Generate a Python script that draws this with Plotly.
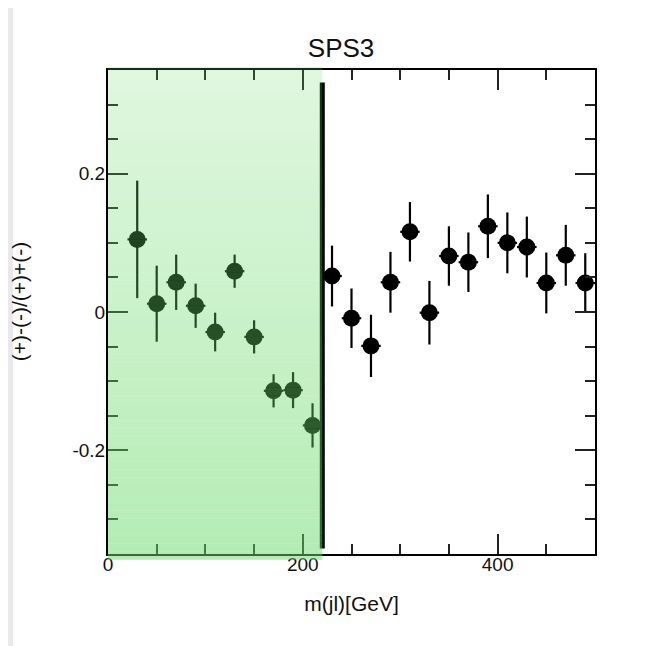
import plotly.graph_objects as go

# data
mass = [30, 50, 70, 90, 110, 130, 150, 170, 190, 210,
        230, 250, 270, 290, 310, 330, 350, 370, 390, 410, 430, 450, 470, 490]
asym = [0.105, 0.012, 0.043, 0.009, -0.029, 0.059, -0.036, -0.114, -0.113, -0.164,
        0.052, -0.009, -0.049, 0.043, 0.116, -0.001, 0.081, 0.072, 0.124, 0.100,
        0.094, 0.042, 0.082, 0.042]
asym_err = [0.085, 0.055, 0.040, 0.032, 0.028, 0.024, 0.024, 0.024, 0.026, 0.032,
            0.044, 0.043, 0.045, 0.044, 0.043, 0.046, 0.043, 0.043, 0.046, 0.044,
            0.044, 0.044, 0.044, 0.043]
bin_half_width = 10
cut_mass = 220
cut_line_top = 0.332

y_tick_vals = [-0.2, 0, 0.2]
y_tick_text = ['-0.2', '0', '0.2']

fig = go.Figure()

fig.add_trace(go.Scatter(
    x=mass, y=asym, mode='markers',
    marker=dict(color='black', size=17),
    error_y=dict(type='data', array=asym_err, thickness=2.2, width=0, color='black'),
    error_x=dict(type='constant', value=bin_half_width, thickness=2.2, width=0, color='black'),
    showlegend=False,
))

# white card on grey page
shapes = [dict(type='rect', xref='paper', yref='paper', x0=-0.195, x1=1.2, y0=-0.25, y1=1.2,
               fillcolor='white', line=dict(width=0), layer='below')]

# cut line
shapes.append(dict(type='line', xref='x', yref='y', x0=cut_mass, x1=cut_mass,
                   y0=-0.342, y1=cut_line_top, line=dict(color='black', width=5), layer='above'))

# green gradient overlay, built from thin strips (lighter at top)
n = 60
y_bot, y_top = -0.012, 1.006
for i in range(n):
    f = i / (n - 1)
    a = 0.5 - (0.5 - 0.21) * f
    shapes.append(dict(type='rect', xref='x', yref='paper', x0=0, x1=cut_mass,
                       y0=y_bot + (y_top - y_bot) * i / n,
                       y1=y_bot + (y_top - y_bot) * (i + 1) / n,
                       fillcolor=f'rgba(105,217,105,{a:.3f})', line=dict(width=0),
                       layer='above'))

axis_common = dict(
    showline=True, linewidth=2, linecolor='black', mirror='allticks',
    ticks='inside', ticklen=20, tickwidth=2, tickcolor='#222',
    showgrid=False, zeroline=False,
    tickfont=dict(size=19, color='#111'),
)

# page body adds 8px offset, so the figure is 8px smaller than the window
fig.update_layout(
    width=643, height=638,
    margin=dict(l=100, r=56, t=62, b=92),
    paper_bgcolor='#e9e9ed', plot_bgcolor='white',
    font=dict(family='Liberation Sans, Arial, sans-serif', color='#111'),
    title=dict(text='SPS3', x=0.518, xanchor='center', y=0.937, yanchor='middle',
               font=dict(size=26, color='#111')),
    shapes=shapes,
    annotations=[dict(text='(+)-(-)/(+)+(-)', textangle=-90, xref='paper', yref='paper',
                      x=-0.18, y=0.523, xanchor='center', yanchor='middle',
                      showarrow=False, font=dict(size=21, color='#111'))],
)
fig.update_xaxes(range=[0, 500], dtick=200, tick0=0, ticklabelstandoff=-8,
                 minor=dict(dtick=50, ticks='inside', ticklen=10, tickwidth=2, tickcolor='#222'),
                 title=dict(text='m(jl)[GeV]', font=dict(size=21), standoff=23),
                 **axis_common)
fig.update_yaxes(range=[-0.35, 0.35], tickvals=y_tick_vals, ticktext=y_tick_text,
                 ticklabelstandoff=-3,
                 minor=dict(dtick=0.05, tick0=0, ticks='inside', ticklen=10, tickwidth=2,
                            tickcolor='#222'),
                 **axis_common)

fig.write_html("out.html")
